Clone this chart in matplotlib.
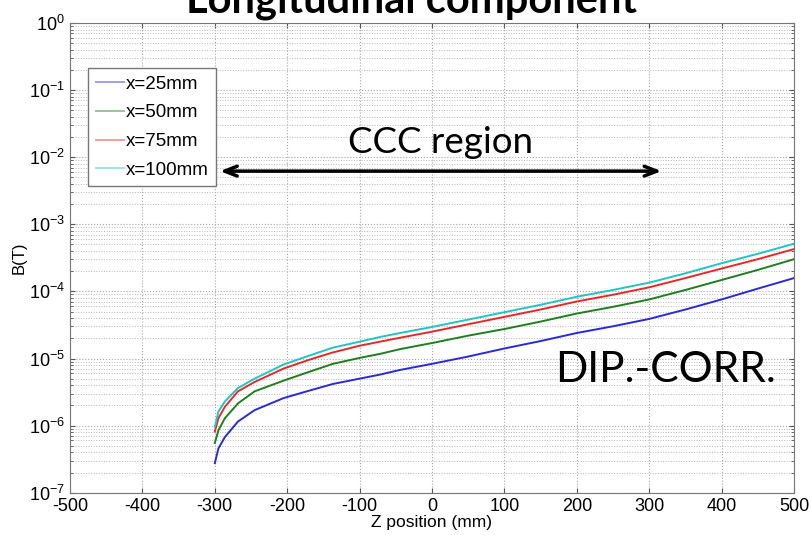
import matplotlib
matplotlib.use("Agg")
import matplotlib.pyplot as plt
from matplotlib.ticker import LogLocator, NullFormatter, MultipleLocator

plt.rcParams['font.family'] = ['Liberation Sans', 'DejaVu Sans']
plt.rcParams['mathtext.default'] = 'regular'
plt.rcParams['axes.unicode_minus'] = False

# Z positions (mm) and field values (T)
z = [-300, -295, -286, -268, -245, -205, -170, -137, -100, -72, -44, 0,
     50, 100, 150, 200, 250, 300, 350, 400, 450, 500]
b25 = [2.75e-7, 4.57e-7, 6.76e-7, 1.15e-6, 1.70e-6, 2.57e-6, 3.31e-6, 4.17e-6,
       5.01e-6, 5.75e-6, 6.76e-6, 8.32e-6, 1.07e-5, 1.41e-5, 1.82e-5, 2.40e-5,
       3.02e-5, 3.89e-5, 5.37e-5, 7.59e-5, 1.10e-4, 1.58e-4]
b50 = [5.50e-7, 8.51e-7, 1.29e-6, 2.14e-6, 3.24e-6, 4.68e-6, 6.31e-6, 8.32e-6,
       1.02e-5, 1.17e-5, 1.38e-5, 1.70e-5, 2.19e-5, 2.75e-5, 3.55e-5, 4.68e-5,
       5.89e-5, 7.59e-5, 1.05e-4, 1.48e-4, 2.09e-4, 3.02e-4]
b75 = [8.13e-7, 1.29e-6, 1.91e-6, 3.24e-6, 4.47e-6, 7.08e-6, 9.55e-6, 1.23e-5,
       1.55e-5, 1.78e-5, 2.04e-5, 2.51e-5, 3.24e-5, 4.17e-5, 5.37e-5, 7.08e-5,
       8.91e-5, 1.15e-4, 1.58e-4, 2.19e-4, 3.02e-4, 4.27e-4]
b100 = [9.55e-7, 1.62e-6, 2.29e-6, 3.63e-6, 5.01e-6, 8.13e-6, 1.10e-5, 1.45e-5,
        1.78e-5, 2.09e-5, 2.40e-5, 2.95e-5, 3.80e-5, 4.90e-5, 6.31e-5, 8.32e-5,
        1.05e-4, 1.35e-4, 1.86e-4, 2.63e-4, 3.63e-4, 5.13e-4]

labels = ["x=25mm", "x=50mm", "x=75mm", "x=100mm"]
colors = ["#2a2ad8", "#1e7f1e", "#e82828", "#22c4c4"]

fig = plt.figure(figsize=(8.12, 5.35), dpi=100)
ax = fig.add_axes([70 / 812, 1 - 492.7 / 535, 724 / 812, 469.7 / 535])

for vals, lab, c in zip([b25, b50, b75, b100], labels, colors):
    ax.plot(z, vals, color=c, lw=1.4, label=lab)

ax.set_yscale("log")
ax.set_xlim(-500, 500)
ax.set_ylim(1e-7, 1)
ax.xaxis.set_major_locator(MultipleLocator(100))
ax.yaxis.set_major_locator(LogLocator(base=10, numticks=10))
ax.yaxis.set_minor_locator(LogLocator(base=10, subs=range(2, 10), numticks=100))
ax.yaxis.set_minor_formatter(NullFormatter())

ax.grid(True, which="major", ls=":", color="#a8a8a8", lw=0.8)
ax.grid(True, which="minor", axis="y", ls=":", color="#b8b8b8", lw=0.7)
ax.tick_params(which="both", direction="in", top=True, right=True,
               colors="#555555", labelcolor="black", labelsize=13)
ax.tick_params(which="minor", length=2)
for s in ax.spines.values():
    s.set_color("#777777")

ax.set_xlabel("Z position (mm)", fontsize=12.5, labelpad=0)
ax.set_ylabel("B(T)", fontsize=12, labelpad=2)

leg = ax.legend(loc="upper left", bbox_to_anchor=(0.025, 0.904), fontsize=13.5,
                handlelength=1.5, handletextpad=0.1, borderpad=0.4,
                labelspacing=0.62, fancybox=False, framealpha=1,
                borderaxespad=0)
leg.get_frame().set_edgecolor("#777777")
leg.get_frame().set_linewidth(1.0)
for h in leg.get_lines():
    h.set_alpha(0.45)

ax.annotate("", xy=(-293, 6.2e-3), xytext=(317, 6.2e-3),
            arrowprops=dict(arrowstyle="<->,head_length=0.9,head_width=0.35",
                            color="black", lw=2.5, shrinkA=0, shrinkB=0))
ax.text(12, 1.65e-2, "CCC region", fontsize=26.5, family=["Lato", "DejaVu Sans"],
        ha="center", va="center")
ax.text(322, 6.8e-6, "DIP.-CORR.", fontsize=30.5, family=["Lato", "DejaVu Sans"],
        ha="center", va="center")

fig.text(412 / 812, 1 - 12 / 535, "Longitudinal component", fontsize=30,
         fontweight="bold", family=["Lato", "DejaVu Sans"], ha="center",
         va="baseline")

fig.savefig("out.png", dpi=100)
